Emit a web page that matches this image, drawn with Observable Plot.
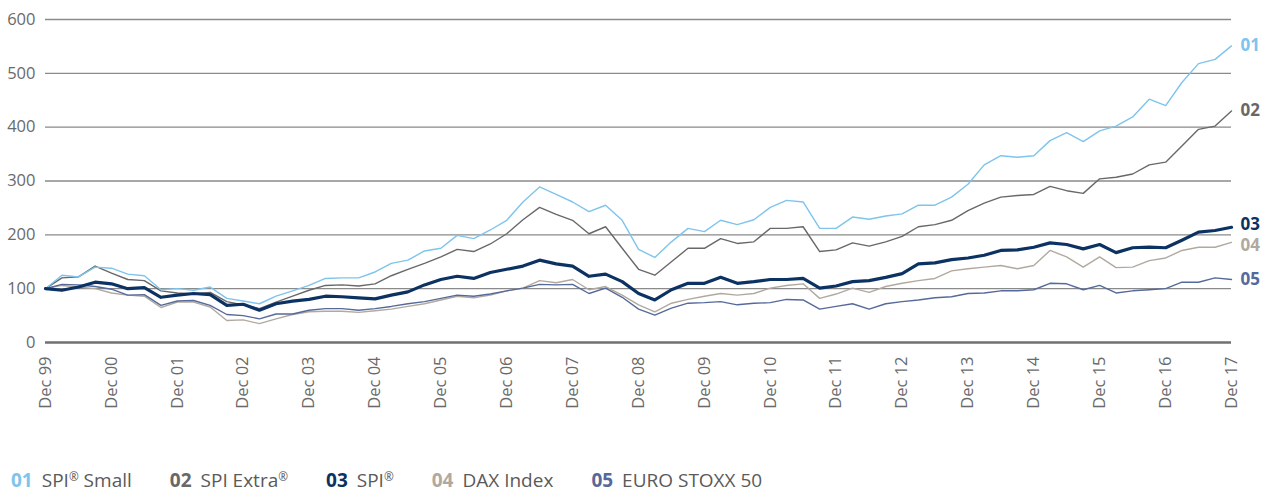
<!DOCTYPE html>
<html><head><meta charset="utf-8">
<script src="https://cdn.jsdelivr.net/npm/d3@7"></script>
<script src="https://cdn.jsdelivr.net/npm/@observablehq/plot@0.6"></script>
<style>
body{margin:0;background:#fff;font-family:"Open Sans",sans-serif;}
#chart{position:absolute;left:0;top:0;}
#legend{position:absolute;left:11px;top:470px;font-size:19px;line-height:20px;color:#5a5a5a;display:flex;white-space:nowrap;}
.item{margin-right:38px}
.num{font-weight:700;margin-right:9px}
.reg{font-size:0.62em;vertical-align:0.55em;line-height:0}
</style></head><body>
<div id="chart"></div>
<div id="legend"></div>
<script>
// Month offsets from Dec 1999 (quarterly readings)
const monthOffsets = d3.range(0, 217, 3);

const seriesIds = ["01", "02", "03", "04", "05"];
const seriesLabels = ["SPI® Small", "SPI Extra®", "SPI®", "DAX Index", "EURO STOXX 50"];
const seriesColors = ["#7ec4ec", "#686868", "#0b3262", "#b1a99f", "#55699a"];

const spiSmall = [100,125,122,140,138,127,124,98,100,97,103,82,77,72,86,96,106,119,120,
  120,131,147,153,170,175,199,193,209,227,261,289,275,261,243,255,227,173,
  158,187,212,206,227,219,228,251,264,261,212,212,233,229,235,239,255,255,
  270,294,330,347,344,347,375,390,373,393,402,419,452,440,483,518,526,551];
const spiExtra = [100,120,122,142,129,117,115,96,92,90,93,76,70,63,75,86,97,106,107,
  105,109,124,136,147,159,173,169,183,202,228,251,238,227,202,215,175,136,
  125,150,175,175,193,184,187,212,212,215,169,172,185,179,187,197,215,219,
  227,245,259,270,273,275,290,282,277,304,307,313,330,335,365,396,402,430];
const spi = [100,97,103,112,109,100,102,84,88,91,89,69,71,60,72,77,80,86,85,
  83,81,88,94,107,117,123,119,130,136,142,153,146,142,123,127,113,91,
  79,98,110,110,121,110,113,117,117,119,101,105,113,115,121,128,146,148,
  154,157,162,171,172,177,185,182,174,182,167,176,177,176,190,205,208,214];
const dax = [100,106,103,100,92,88,86,65,75,75,66,41,42,35,44,52,57,58,58,
  56,59,62,67,72,79,86,83,88,96,101,115,111,117,98,104,88,70,
  57,73,80,86,91,88,91,101,106,109,82,90,101,93,104,110,115,119,
  133,137,140,143,137,143,171,159,140,159,139,140,152,157,171,177,177,186];
const euroStoxx = [100,108,107,104,99,88,89,69,77,78,69,52,50,44,53,53,60,63,63,
  60,63,67,72,76,82,88,86,90,96,101,108,107,108,91,101,84,62,
  51,64,73,74,76,70,73,74,80,79,62,67,72,62,72,76,79,83,
  85,91,92,96,96,98,110,109,98,106,92,96,98,100,112,112,120,117];

const yTicks = [0, 100, 200, 300, 400, 500, 600];
const tickYears = d3.range(1999, 2018);

const seriesValues = [spiSmall, spiExtra, spi, dax, euroStoxx];
const start = new Date(Date.UTC(1999, 11, 1));
const dateOf = m => d3.utcMonth.offset(start, m);

const rows = [];
seriesIds.forEach((id, i) => {
  seriesValues[i].forEach((v, j) => rows.push({id, date: dateOf(monthOffsets[j]), value: v}));
});
const lastRows = seriesIds.map((id, i) => ({id, date: dateOf(monthOffsets[monthOffsets.length - 1]), value: seriesValues[i][seriesValues[i].length - 1], color: seriesColors[i]}));
const xTicks = tickYears.map(y => new Date(Date.UTC(y, 11, 1)));

const lineMark = (id, w) => Plot.line(rows.filter(d => d.id === id), {
  x: "date", y: "value", stroke: seriesColors[seriesIds.indexOf(id)], strokeWidth: w, strokeLinejoin: "round"
});
const endLabel = (ids, dy) => Plot.text(lastRows.filter(d => ids.includes(d.id)), {
  x: "date", y: "value", text: "id", fill: "color", dx: 9, dy, textAnchor: "start", fontWeight: "bold", fontSize: 17
});

const chart = Plot.plot({
  width: 1275, height: 420,
  marginLeft: 45, marginRight: 44, marginTop: 19, marginBottom: 78,
  x: {type: "utc", domain: [dateOf(0), dateOf(216)]},
  y: {domain: [0, 600]},
  style: {fontFamily: "'Open Sans', sans-serif", fontSize: "16.5px", color: "#6a6a6a", background: "#fff"},
  marks: [
    Plot.ruleY(yTicks.filter(d => d > 0), {stroke: "#8a8a8a", strokeWidth: 1.3}),
    Plot.axisY({ticks: yTicks, tickSize: 0, tickPadding: 10, label: null}),
    Plot.axisX({ticks: xTicks, tickFormat: d => "Dec " + d3.utcFormat("%y")(d), tickSize: 0, tickRotate: -90, tickPadding: 14, label: null}),
    lineMark("04", 1.4),
    lineMark("05", 1.4),
    lineMark("02", 1.4),
    lineMark("01", 1.4),
    lineMark("03", 3.2),
    Plot.ruleY([0], {stroke: "#707070", strokeWidth: 2.6}),
    endLabel(["01", "02", "05"], 0),
    endLabel(["03"], -3),
    endLabel(["04"], 3)
  ]
});
document.getElementById("chart").appendChild(chart);

const legend = document.getElementById("legend");
seriesIds.forEach((id, i) => {
  const item = document.createElement("span");
  item.className = "item";
  const num = document.createElement("span");
  num.className = "num";
  num.style.color = seriesColors[i];
  num.textContent = id;
  item.appendChild(num);
  const parts = seriesLabels[i].split("®");
  parts.forEach((p, k) => {
    item.appendChild(document.createTextNode(p));
    if (k < parts.length - 1) {
      const r = document.createElement("span");
      r.className = "reg";
      r.textContent = "®";
      item.appendChild(r);
    }
  });
  legend.appendChild(item);
});
</script>
</body></html>
